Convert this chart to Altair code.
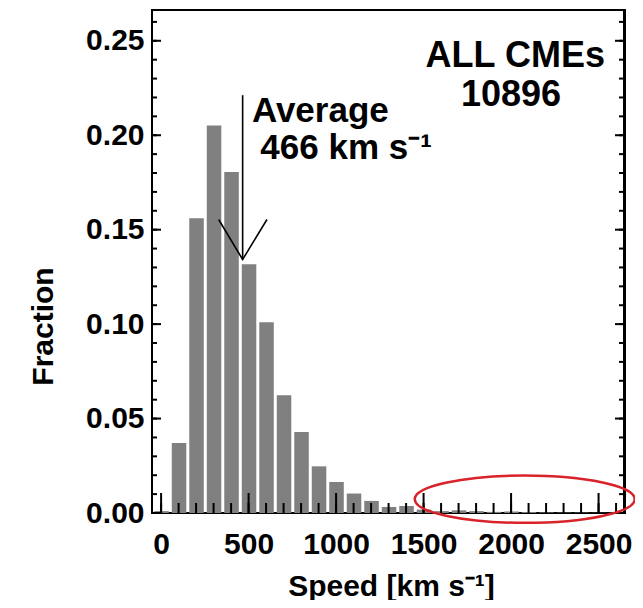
import altair as alt
import pandas as pd

# ---- data ----
speed_centers = [0, 100, 200, 300, 400, 500, 600, 700, 800, 900, 1000, 1100, 1200,
                 1300, 1400, 1500, 1600, 1700, 1800, 1900, 2000, 2100, 2200, 2300,
                 2400, 2500, 2600]
fractions = [0.001, 0.037, 0.156, 0.2052, 0.1805, 0.1317, 0.101, 0.0623, 0.0429,
             0.0247, 0.0164, 0.0103, 0.0064, 0.0032, 0.0037, 0.0018, 0.0010, 0.0014,
             0.0010, 0.0006, 0.0008, 0.0005, 0.0003, 0.0002, 0.0002, 0.0001, 0.0001]

x_tick_labels = [0, 500, 1000, 1500, 2000, 2500]
x_minor = [v for v in range(0, 2700, 100)]
y_tick_labels = [0.0, 0.05, 0.10, 0.15, 0.20, 0.25]
y_minor = [round(i * 0.01, 2) for i in range(0, 27)]

avg_speed = 466
v_x = [329, 466, 605]
v_y = [0.1554, 0.1342, 0.1554]
avg_top = 0.2212

ann_text = ["Average", "466 km s\u207b\u00b9"]
ann_x = [519, 567]
ann_y = [0.2068, 0.1872]
box_text = ["ALL CMEs", "10896"]
box_x = [2024, 2000]
box_y = [0.2362, 0.2154]

ellipse_x = [2078]
ellipse_y = [0.0073]

FONT = "Liberation Sans"
W, H = 473, 503
XDOM = [-52, 2651]
YDOM = [0, 0.2663]

xs = alt.Scale(domain=XDOM, nice=False, zero=False)
ys = alt.Scale(domain=YDOM, nice=False, zero=False)

XAXIS = alt.Axis(
    values=x_tick_labels, format="d", title="Speed [km s\u207b\u00b9]",
    labelFont=FONT, labelFontWeight="bold", labelFontSize=30, labelColor="black",
    labelPadding=40, labelBaseline="alphabetic",
    titleFont=FONT, titleFontWeight="bold", titleFontSize=30, titleColor="black",
    titleX=239, titleY=82, titleAlign="center", titleBaseline="alphabetic",
    ticks=False, tickSize=0, domain=False, grid=False)
YAXIS = alt.Axis(
    values=y_tick_labels, format=".2f", title="Fraction",
    labelFont=FONT, labelFontWeight="bold", labelFontSize=30, labelColor="black",
    labelPadding=8,
    titleFont=FONT, titleFontWeight="bold", titleFontSize=30, titleColor="black",
    titleAngle=270, titleX=-100, titleY=316, titleAlign="center",
    titleBaseline="alphabetic",
    ticks=False, tickSize=0, domain=False, grid=False)


def X(f):
    return alt.X(f, scale=xs, axis=XAXIS, title="Speed [km s\u207b\u00b9]")


def Y(f):
    return alt.Y(f, scale=ys, axis=YAXIS, title="Fraction")


bars_df = pd.DataFrame({"speed": speed_centers, "frac": fractions})
bars = alt.Chart(bars_df).transform_calculate(
    lo="datum.speed - 39", hi="datum.speed + 44"
).mark_bar(color="#808080").encode(
    x=X("lo:Q"), x2="hi:Q", y=Y("frac:Q"), y2=alt.datum(0),
)

ymaj = pd.DataFrame({"v": y_tick_labels})
ymin = pd.DataFrame({"v": y_minor})
xmaj = pd.DataFrame({"v": x_tick_labels})
xmin = pd.DataFrame({"v": x_minor})


def yrule(df, x0, x1):
    return alt.Chart(df).mark_rule(color="black", strokeWidth=2).encode(
        y=Y("v:Q"), x=alt.value(x0), x2=alt.value(x1))


def xrule(df, length):
    return alt.Chart(df).mark_rule(color="black", strokeWidth=2).encode(
        x=X("v:Q"), y=alt.value(H), y2=alt.value(H - length))


ticks = [
    yrule(ymin, 0, 5), yrule(ymaj, 0, 9),
    yrule(ymin, W - 6, W), yrule(ymaj, W - 10, W),
    xrule(xmin, 10), xrule(xmaj, 20),
]

# right edge of the frame, as a thin dark rectangle
edge_df = pd.DataFrame({"v": [0]})
right_edge = alt.Chart(edge_df).mark_rect(color="black").encode(
    x=alt.value(W - 2), x2=alt.value(W + 1), y=alt.value(-1), y2=alt.value(H + 1))

v_df = pd.DataFrame({"x": v_x, "y": v_y, "o": [0, 1, 2]})
vline = alt.Chart(v_df).mark_line(color="black", strokeWidth=1.6).encode(
    x=X("x:Q"), y=Y("y:Q"), order="o:O")

avg_df = pd.DataFrame({"x": [avg_speed], "y": [v_y[1]], "y2": [avg_top]})
avg_rule = alt.Chart(avg_df).mark_rule(color="black", strokeWidth=1.6).encode(
    x=X("x:Q"), y=Y("y:Q"), y2="y2:Q")

ann_df = pd.DataFrame({"x": ann_x, "y": ann_y, "t": ann_text})
ann = alt.Chart(ann_df).mark_text(
    align="left", baseline="alphabetic", font=FONT, fontWeight="bold",
    fontSize=35, color="black").encode(x=X("x:Q"), y=Y("y:Q"), text="t:N")

box_df = pd.DataFrame({"x": box_x, "y": box_y, "t": box_text})
box = alt.Chart(box_df).mark_text(
    align="center", baseline="alphabetic", font=FONT, fontWeight="bold",
    fontSize=36, color="black").encode(x=X("x:Q"), y=Y("y:Q"), text="t:N")

e = 0.215
k = 0.5523
ell_path = (
    f"M -1 0 C -1 {-k*e:.4f} {-k:.4f} {-e:.4f} 0 {-e:.4f} "
    f"C {k:.4f} {-e:.4f} 1 {-k*e:.4f} 1 0 "
    f"C 1 {k*e:.4f} {k:.4f} {e:.4f} 0 {e:.4f} "
    f"C {-k:.4f} {e:.4f} -1 {k*e:.4f} -1 0 Z"
)
ell_df = pd.DataFrame({"x": ellipse_x, "y": ellipse_y})
ellipse = alt.Chart(ell_df).mark_point(
    shape=ell_path, size=220 * 220, filled=False, stroke="#d9232a",
    strokeWidth=2.5, opacity=1).encode(x=X("x:Q"), y=Y("y:Q"))

chart = alt.layer(bars, *ticks, right_edge, vline, avg_rule, ann, box,
                  ellipse).properties(
    width=W, height=H,
    autosize=alt.AutoSizeParams(type="none"),
    padding={"left": 144, "top": 2, "right": 10, "bottom": 87},
    background="white",
).configure_view(stroke="black", strokeWidth=2)

chart.save("out.html", embed_options={"renderer": "svg", "actions": False})
